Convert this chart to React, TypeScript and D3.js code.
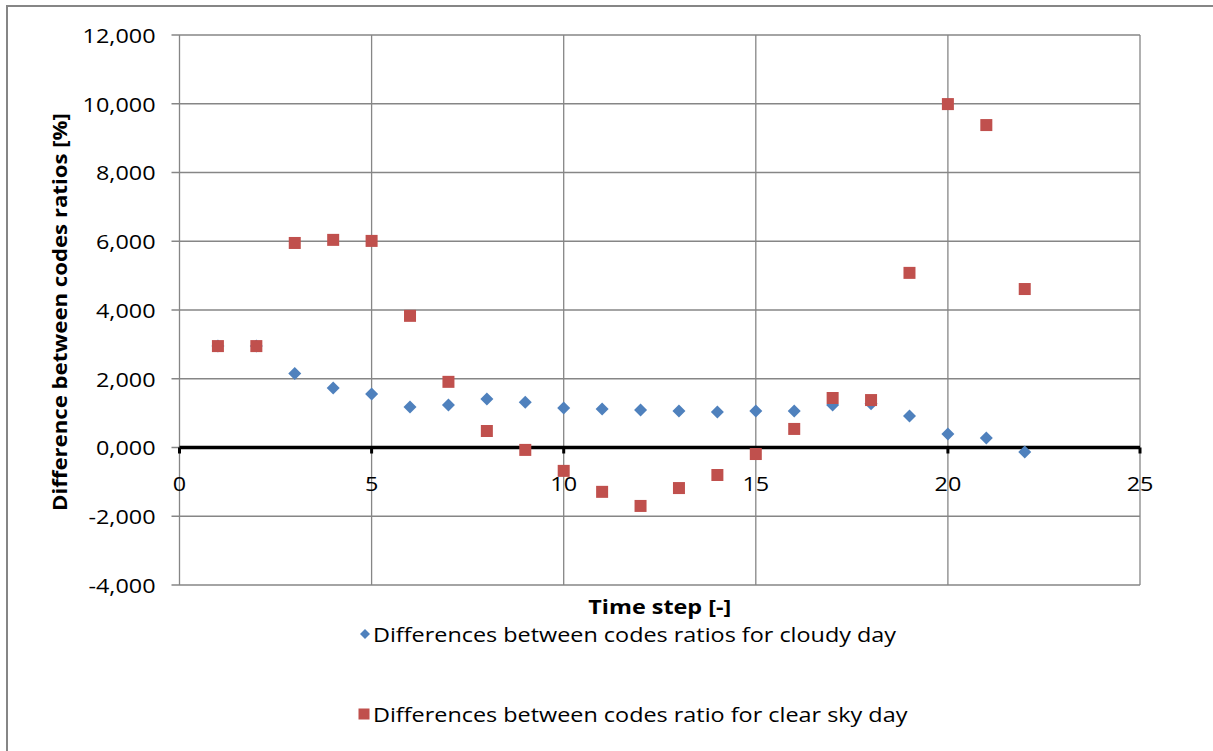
import React from "react";
import * as d3 from "d3";

// Time steps and the two series (difference between code ratios, in %)
const timeSteps = [1, 2, 3, 4, 5, 6, 7, 8, 9, 10, 11, 12, 13, 14, 15, 16, 17, 18, 19, 20, 21, 22];
const cloudyDay = [2.95, 2.95, 2.15, 1.73, 1.56, 1.18, 1.24, 1.41, 1.32, 1.15, 1.12, 1.09, 1.06, 1.03, 1.06, 1.06, 1.24, 1.27, 0.92, 0.39, 0.28, -0.13];
const clearSkyDay = [2.95, 2.95, 5.95, 6.04, 6.01, 3.83, 1.91, 0.48, -0.07, -0.68, -1.29, -1.7, -1.18, -0.8, -0.19, 0.54, 1.44, 1.38, 5.08, 9.99, 9.38, 4.61];

const xTicks = [0, 5, 10, 15, 20, 25];
const yTicks = [-4, -2, 0, 2, 4, 6, 8, 10, 12];

const seriesNames = [
  "Differences between codes ratios for cloudy day",
  "Differences between codes ratio for clear sky day",
];

const BLUE = "#4F81BD";
const RED = "#C0504D";
const GRID = "#868686";
const FONT = "'Open Sans', sans-serif";
const SX = 1.17; // horizontal stretch for the text

const W = 1213;
const H = 751;
const plot = { left: 179.5, right: 1140, top: 35, bottom: 585 };

const x = d3.scaleLinear().domain([0, 25]).range([plot.left, plot.right]);
const y = d3.scaleLinear().domain([-4, 12]).range([plot.bottom, plot.top]);

const fmt = (v: number) => d3.format(".3f")(v).replace(".", ",").replace("−", "-");

function T({ x: tx, y: ty, anchor = "middle", size = 20, bold = false, rotate = 0, sx = SX, children }: any) {
  return (
    <g transform={`translate(${tx},${ty}) rotate(${rotate}) scale(${sx},1)`}>
      <text
        textAnchor={anchor}
        dominantBaseline="central"
        fontFamily={FONT}
        fontSize={size}
        fontWeight={bold ? "bold" : "normal"}
        fill="#000"
      >
        {children}
      </text>
    </g>
  );
}

function Diamond({ cx, cy, r = 6.5 }: { cx: number; cy: number; r?: number }) {
  return <path d={`M${cx},${cy - r}L${cx + r},${cy}L${cx},${cy + r}L${cx - r},${cy}Z`} fill={BLUE} />;
}

function Square({ cx, cy, s = 12 }: { cx: number; cy: number; s?: number }) {
  return <rect x={cx - s / 2} y={cy - s / 2} width={s} height={s} fill={RED} />;
}

export default function App() {
  return (
    <svg width={W} height={H} style={{ position: "absolute", left: 0, top: 0, background: "#fff" }}>
      {/* chart frame */}
      <rect x={7} y={6} width={W + 20} height={H + 20} fill="#fff" stroke={GRID} strokeWidth={2} />

      {/* horizontal gridlines with outside ticks */}
      {yTicks.map((t) => (
        <line key={`gy${t}`} x1={plot.left - 8} x2={plot.right} y1={y(t)} y2={y(t)} stroke={GRID} strokeWidth={1.3} />
      ))}
      {/* vertical gridlines */}
      {xTicks.map((t) => (
        <line key={`gx${t}`} x1={x(t)} x2={x(t)} y1={plot.top} y2={plot.bottom} stroke={GRID} strokeWidth={1.3} />
      ))}

      {/* y tick labels */}
      {yTicks.map((t) => (
        <T key={`ly${t}`} x={plot.left - 24} y={y(t)} anchor="end">
          {fmt(t)}
        </T>
      ))}

      {/* zero axis line with tick marks */}
      <line x1={plot.left} x2={plot.right} y1={y(0)} y2={y(0)} stroke="#000" strokeWidth={3.5} />
      {xTicks.map((t) => (
        <line key={`tx${t}`} x1={x(t)} x2={x(t)} y1={y(0)} y2={y(0) + 6} stroke="#000" strokeWidth={3} />
      ))}
      {xTicks.map((t) => (
        <T key={`lx${t}`} x={x(t)} y={y(0) + 36}>
          {t}
        </T>
      ))}

      {/* series */}
      {timeSteps.map((t, i) => (
        <Diamond key={`c${t}`} cx={x(t)} cy={y(cloudyDay[i])} />
      ))}
      {timeSteps.map((t, i) => (
        <Square key={`s${t}`} cx={x(t)} cy={y(clearSkyDay[i])} />
      ))}

      {/* axis titles */}
      <T x={(plot.left + plot.right) / 2} y={606} bold>
        Time step [-]
      </T>
      <T x={59} y={(plot.top + plot.bottom) / 2 + 2} bold rotate={-90} sx={1.11}>
        Difference between codes ratios [%]
      </T>

      {/* legend */}
      <Diamond cx={365} cy={634} r={5} />
      <T x={373} y={634} anchor="start">
        {seriesNames[0]}
      </T>
      <Square cx={364} cy={714} s={11} />
      <T x={373} y={714} anchor="start">
        {seriesNames[1]}
      </T>
    </svg>
  );
}
